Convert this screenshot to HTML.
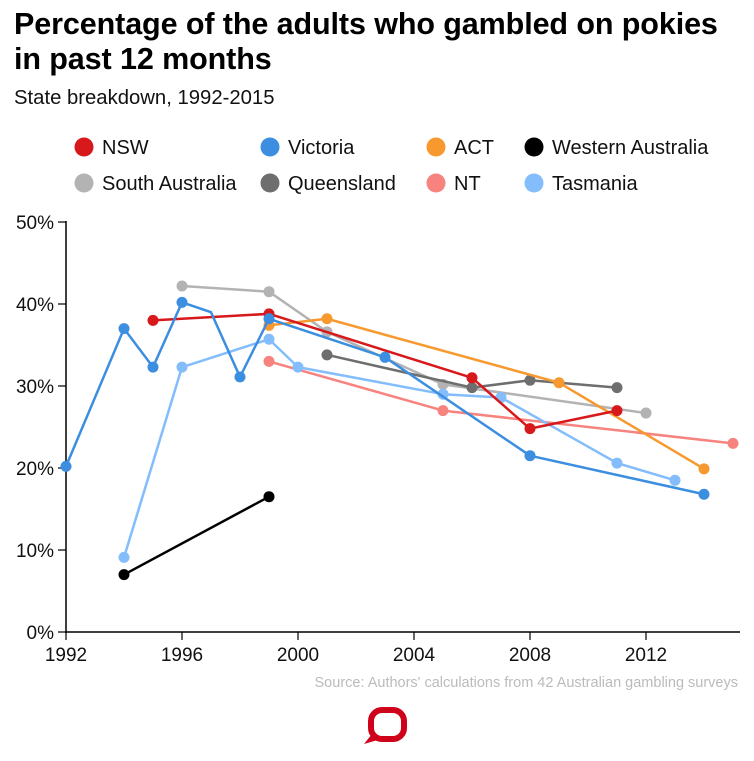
<!DOCTYPE html>
<html><head><meta charset="utf-8"><style>
body{margin:0;background:#fff;font-family:"Liberation Sans",Arial,sans-serif;}
#wrap{position:relative;width:754px;height:761px;overflow:hidden;}
h1{position:absolute;left:14px;top:7px;margin:0;font-size:30.5px;line-height:35px;font-weight:bold;color:#000;letter-spacing:-0.1px;}
.sub{position:absolute;left:14px;top:87px;font-size:20.3px;color:#111;}
</style></head><body>
<div id="wrap">
<h1>Percentage of the adults who gambled on pokies<br>in past 12 months</h1>
<div class="sub">State breakdown, 1992-2015</div>
<svg id="svg" width="754" height="761" style="position:absolute;left:0;top:0"></svg>
</div>
<script>
const seriesNames=["NSW","Victoria","ACT","Western Australia","South Australia","Queensland","NT","Tasmania"];
const seriesColors=["#d7191c","#3b8ee0","#f7992f","#000000","#b3b3b3","#6e6e6e","#f7837f","#83bdfb"];
const nswYears=[1995,1999,2006,2008,2011];
const nswValues=[38,38.8,31,24.8,27];
const vicYears=[1992,1994,1995,1996,1997,1998,1999,2003,2008,2014];
const vicValues=[20.2,37,32.3,40.2,39,31.1,38.2,33.5,21.5,16.8];
const vicMarked=[1,1,1,1,0,1,1,1,1,1];
const actYears=[1999,2001,2009,2014];
const actValues=[37.4,38.2,30.4,19.9];
const waYears=[1994,1999];
const waValues=[7,16.5];
const saYears=[1996,1999,2001,2005,2012];
const saValues=[42.2,41.5,36.6,30.2,26.7];
const qldYears=[2001,2006,2008,2011];
const qldValues=[33.8,29.8,30.7,29.8];
const ntYears=[1999,2005,2015];
const ntValues=[33,27,23];
const tasYears=[1994,1996,1999,2000,2005,2007,2011,2013];
const tasValues=[9.1,32.3,35.7,32.3,29,28.6,20.6,18.5];
const xTicks=[1992,1996,2000,2004,2008,2012];
const yTicks=[0,10,20,30,40,50];

const svg=document.getElementById('svg');
const NS='http://www.w3.org/2000/svg';
const x=v=>66+(v-1992)*29;
const y=v=>632-v*8.2;
function mk(tag,attrs,parent){const e=document.createElementNS(NS,tag);for(const k in attrs)e.setAttribute(k,attrs[k]);(parent||svg).appendChild(e);return e;}

const legX=[76,262,428,526,76,262,428,526];
const legY=[147,147,147,147,183,183,183,183];
for(let i=0;i<8;i++){
  const g=mk('g',{});
  
  
  mk('circle',{cx:legX[i]+8,cy:legY[i],r:9.5,fill:seriesColors[i]},g);
  const t=mk('text',{x:legX[i]+26,y:legY[i]+7,'font-size':'20','fill':'#111','font-family':'Liberation Sans, Arial, sans-serif'},g);
  t.textContent=seriesNames[i];
}

const axes=mk('g',{});


mk('line',{x1:66,y1:y(50)-1,x2:66,y2:633,stroke:'#000','stroke-width':1.5},axes);
mk('line',{x1:65,y1:632,x2:740,y2:632,stroke:'#000','stroke-width':1.5},axes);
yTicks.forEach(v=>{
  mk('line',{x1:58,y1:y(v),x2:66,y2:y(v),stroke:'#000','stroke-width':1.2},axes);
  const t=mk('text',{x:54,y:y(v)+7,'text-anchor':'end','font-size':'19','fill':'#111'},axes);
  
  
  t.textContent=v+'%';
});
xTicks.forEach(v=>{
  mk('line',{x1:x(v),y1:632,x2:x(v),y2:640,stroke:'#000','stroke-width':1.2},axes);
  const t=mk('text',{x:x(v),y:661,'text-anchor':'middle','font-size':'19','fill':'#111'},axes);
  
  
  t.textContent=v;
});

const all=[
 [nswYears,nswValues,null],[vicYears,vicValues,vicMarked],[actYears,actValues,null],[waYears,waValues,null],
 [saYears,saValues,null],[qldYears,qldValues,null],[ntYears,ntValues,null],[tasYears,tasValues,null]];
const order=[4,6,7,5,2,0,1,3];
order.forEach(i=>{
  const [xs,vs,mkd]=all[i];
  const g=mk('g',{});
  
  
  mk('polyline',{points:xs.map((yr,j)=>x(yr)+','+y(vs[j])).join(' '),fill:'none',stroke:seriesColors[i],'stroke-width':2.5,'stroke-linejoin':'round'},g);
  xs.forEach((yr,j)=>{
    if(mkd&&!mkd[j])return;
    const c=mk('circle',{cx:x(yr),cy:y(vs[j]),r:5.5,fill:seriesColors[i]},g);
    
    
  });
});

const src=mk('text',{x:738,y:687,'text-anchor':'end','font-size':'14.5','fill':'#bbb'});


src.textContent="Source: Authors' calculations from 42 Australian gambling surveys";

const logo=mk('g',{});


mk('rect',{x:371,y:710,width:33,height:29,rx:11,fill:'none',stroke:'#d0021b','stroke-width':6},logo);
mk('path',{d:'M372 734 L364 744 L381 739 Z',fill:'#d0021b'},logo);
</script>
</body></html>
